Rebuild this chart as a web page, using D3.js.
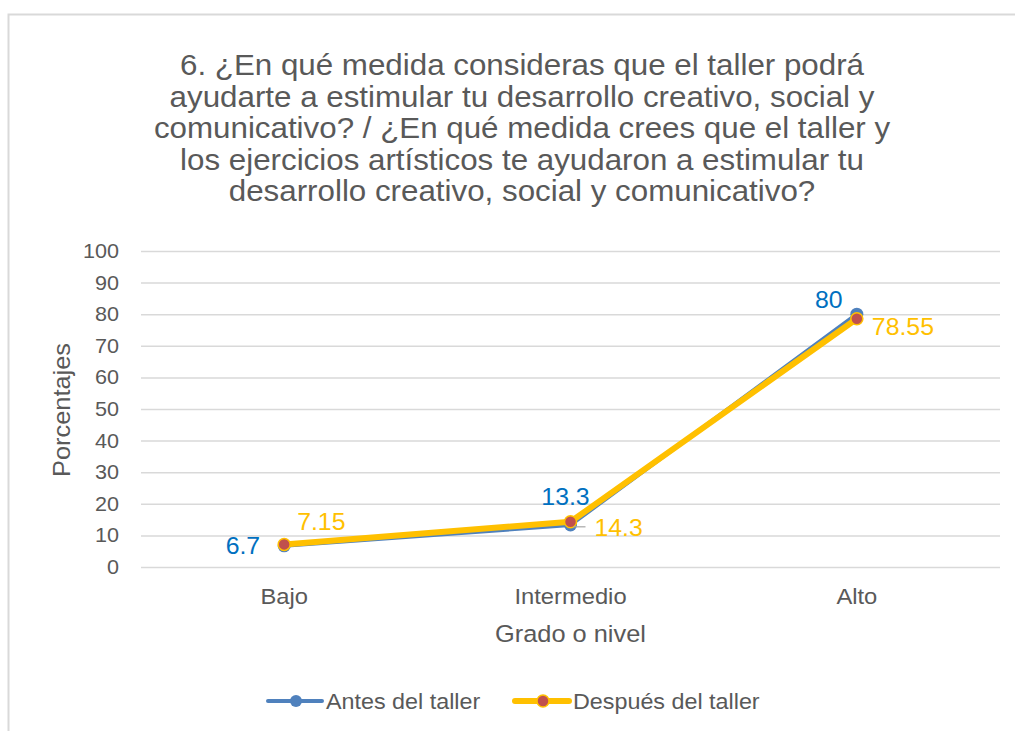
<!DOCTYPE html>
<html>
<head>
<meta charset="utf-8">
<script src="https://cdn.jsdelivr.net/npm/d3@7"></script>
<style>
  body { margin: 0; background: #fff; }
  text { font-family: "Liberation Sans", Arial, sans-serif; }
</style>
</head>
<body>
<svg id="chart" width="1015" height="731"></svg>
<script>
'use strict';

var categories = ['Bajo', 'Intermedio', 'Alto'];
var antesValues = [6.7, 13.3, 80];
var despuesValues = [7.15, 14.3, 78.55];
var yTicks = [0, 10, 20, 30, 40, 50, 60, 70, 80, 90, 100];
var titleLines = [
    '6. ¿En qué medida consideras que el taller podrá',
    'ayudarte a estimular tu desarrollo creativo, social y',
    'comunicativo? / ¿En qué medida crees que el taller y',
    'los ejercicios artísticos te ayudaron a estimular tu',
    'desarrollo creativo, social y comunicativo?'
];
var seriesNames = ['Antes del taller', 'Después del taller'];

var svg = d3.select('#chart'),
    plot = { left: 141, right: 1000, top: 251, bottom: 567 },
    textColor = '#595959',
    gridColor = '#d9d9d9',
    STRETCH = 1.08; //reference font runs a little wider than Liberation Sans

//Draws one piece of text, widened along its own baseline
function addText(parent, x, y, str, size, opts) {
    opts = opts || {};
    return parent.append('text')
        .attr('transform', 'translate(' + x + ',' + y + ')' +
            (opts.rotate ? ' rotate(' + opts.rotate + ')' : '') +
            ' scale(' + STRETCH + ',1)')
        .attr('text-anchor', opts.anchor || 'start')
        .attr('font-size', size)
        .attr('fill', opts.color || textColor)
        .text(str);
}

//Chart frame (runs off the right and bottom edge)
svg.append('rect')
    .attr('x', 8.5).attr('y', 14.5)
    .attr('width', 1100).attr('height', 800)
    .attr('fill', 'none')
    .attr('stroke', gridColor)
    .attr('stroke-width', 2);

//Title
titleLines.forEach((d, i) => {
    addText(svg, 522, 75 + i * 31.5, d, 29, { anchor: 'middle' });
});

var x = d3.scalePoint().domain(categories).range([plot.left, plot.right]).padding(0.5);
var y = d3.scaleLinear().domain([0, 100]).range([plot.bottom, plot.top]);

//Gridlines
svg.append('g')
    .selectAll('line')
    .data(yTicks)
    .enter().append('line')
    .attr('x1', plot.left).attr('x2', plot.right)
    .attr('y1', d => y(d) + 0.5).attr('y2', d => y(d) + 0.5)
    .attr('stroke', gridColor)
    .attr('stroke-width', 1.5);

//Y axis labels
var yLabels = svg.append('g');
yTicks.forEach(v => {
    addText(yLabels, plot.left - 22, y(v) + 7, String(v), 20, { anchor: 'end' });
});

//X axis labels
var xLabels = svg.append('g');
categories.forEach(c => {
    addText(xLabels, x(c), 604, c, 22, { anchor: 'middle' });
});

//Axis titles
addText(svg, 70, (plot.top + plot.bottom) / 2 + 1, 'Porcentajes', 23.5, { anchor: 'middle', rotate: -90 });
addText(svg, (plot.left + plot.right) / 2, 642, 'Grado o nivel', 23.5, { anchor: 'middle' });

var line = d3.line()
    .x((d, i) => x(categories[i]))
    .y(d => y(d));

//Series: Antes
svg.append('path')
    .datum(antesValues)
    .attr('d', line)
    .attr('fill', 'none')
    .attr('stroke', '#4f81bd')
    .attr('stroke-width', 4)
    .attr('stroke-linejoin', 'round');
svg.append('g')
    .selectAll('circle')
    .data(antesValues)
    .enter().append('circle')
    .attr('cx', (d, i) => x(categories[i]))
    .attr('cy', d => y(d))
    .attr('r', 6.5)
    .attr('fill', '#4f81bd');

//Series: Despues
svg.append('path')
    .datum(despuesValues)
    .attr('d', line)
    .attr('fill', 'none')
    .attr('stroke', '#ffc000')
    .attr('stroke-width', 6)
    .attr('stroke-linejoin', 'round');
svg.append('g')
    .selectAll('circle')
    .data(despuesValues)
    .enter().append('circle')
    .attr('cx', (d, i) => x(categories[i]))
    .attr('cy', d => y(d))
    .attr('r', 6)
    .attr('fill', '#c0504d')
    .attr('stroke', '#ffc000')
    .attr('stroke-width', 1.5);

//Leader line for 14.3
svg.append('line')
    .attr('x1', x('Intermedio') + 3).attr('x2', x('Intermedio') + 15)
    .attr('y1', y(despuesValues[1]) + 5).attr('y2', y(despuesValues[1]) + 5)
    .attr('stroke', '#a6a6a6').attr('stroke-width', 1.2);

//Data labels (offsets per point)
var antesLabelPos = [
    { dx: -24, dy: 8, anchor: 'end' },
    { dx: -5, dy: -20, anchor: 'middle' },
    { dx: -28, dy: -6, anchor: 'middle' }
];
var despuesLabelPos = [
    { dx: 13, dy: -14, anchor: 'start' },
    { dx: 24, dy: 14, anchor: 'start' },
    { dx: 15, dy: 16, anchor: 'start' }
];

var labelsA = svg.append('g');
antesValues.forEach((v, i) => {
    var p = antesLabelPos[i];
    addText(labelsA, x(categories[i]) + p.dx, y(v) + p.dy, String(v), 23, { anchor: p.anchor, color: '#0070c0' });
});
var labelsD = svg.append('g');
despuesValues.forEach((v, i) => {
    var p = despuesLabelPos[i];
    addText(labelsD, x(categories[i]) + p.dx, y(v) + p.dy, String(v), 23, { anchor: p.anchor, color: '#ffc000' });
});

//Legend
var legend = [
    { name: seriesNames[0], x: 268, stroke: '#4f81bd', width: 4, fill: '#4f81bd', mstroke: 'none' },
    { name: seriesNames[1], x: 515, stroke: '#ffc000', width: 6, fill: '#c0504d', mstroke: '#ffc000' }
];
legend.forEach(d => {
    var g = svg.append('g').attr('transform', 'translate(' + d.x + ',701)');
    g.append('line')
        .attr('x1', 0).attr('x2', 54)
        .attr('stroke', d.stroke)
        .attr('stroke-width', d.width)
        .attr('stroke-linecap', 'round');
    g.append('circle')
        .attr('cx', 28).attr('r', 6)
        .attr('fill', d.fill)
        .attr('stroke', d.mstroke)
        .attr('stroke-width', 1.5);
    addText(g, 58, 7.5, d.name, 21.6);
});
</script>
</body>
</html>
